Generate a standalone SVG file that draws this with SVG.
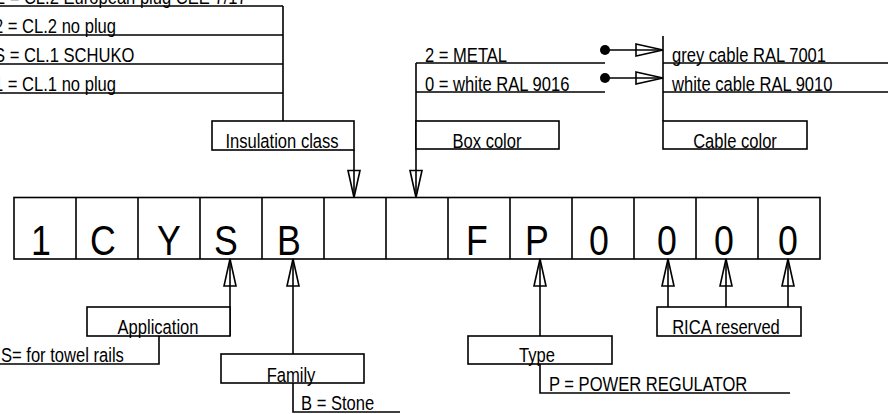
<svg xmlns="http://www.w3.org/2000/svg" width="888" height="414" viewBox="0 0 888 414">
<style>
.ln{fill:none;stroke:#000;stroke-width:1.6}
.bx{fill:#fff;stroke:#000;stroke-width:1.6}
.t{font-family:"Liberation Sans",Arial,sans-serif;font-size:19.5px;fill:#000}
.m{text-anchor:middle}
.big{font-family:"Liberation Sans",Arial,sans-serif;font-size:42px;fill:#000;text-anchor:middle}
</style>
<defs>
<marker id="ah" viewBox="-1 -1 29 14" refX="27" refY="6" markerWidth="29" markerHeight="14" markerUnits="userSpaceOnUse" orient="auto" overflow="visible">
<path d="M0,0 L27,6 L0,12 Z" fill="none" stroke="#000" stroke-width="1.6"/>
</marker>
</defs>
<rect width="888" height="414" fill="#fff"/>

<g id="code">
<rect class="bx" x="14" y="197.5" width="806" height="61.5"/>
<path class="ln" d="M76,197.5V259M138,197.5V259M200,197.5V259M262,197.5V259M324,197.5V259M386,197.5V259M448,197.5V259M510,197.5V259M572,197.5V259M634,197.5V259M696,197.5V259M758,197.5V259"/>
<text class="big" transform="translate(41,255) scale(0.85,1)">1</text>
<text class="big" transform="translate(103,255) scale(0.85,1)">C</text>
<text class="big" transform="translate(169,255) scale(0.85,1)">Y</text>
<text class="big" transform="translate(226,255) scale(0.85,1)">S</text>
<text class="big" transform="translate(289,255) scale(0.85,1)">B</text>
<text class="big" transform="translate(477,255) scale(0.85,1)">F</text>
<text class="big" transform="translate(537,255) scale(0.85,1)">P</text>
<text class="big" transform="translate(599,255) scale(0.85,1)">0</text>
<text class="big" transform="translate(667,255) scale(0.85,1)">0</text>
<text class="big" transform="translate(724,255) scale(0.85,1)">0</text>
<text class="big" transform="translate(788,255) scale(0.85,1)">0</text>
</g>

<g id="connectors">
<path class="ln" d="M0,6H283M0,35H283M0,64H283M0,93H283M283,6V121"/>
<path class="ln" d="M354,150V197.5" marker-end="url(#ah)"/>
<path class="ln" d="M416,63H605M416,92H605"/>
<path class="ln" d="M416,63V197.5" marker-end="url(#ah)"/>
<path class="ln" d="M663,36V121M663,63H888M663,92H888"/>
<circle cx="605" cy="50" r="5" fill="#000"/>
<circle cx="605" cy="78" r="5" fill="#000"/>
<path class="ln" d="M605,50H663" marker-end="url(#ah)"/>
<path class="ln" d="M605,78H663" marker-end="url(#ah)"/>
<path class="ln" d="M230,336V259" marker-end="url(#ah)"/>
<path class="ln" d="M159,336V364H0"/>
<path class="ln" d="M293,354V259" marker-end="url(#ah)"/>
<path class="ln" d="M293,383V412H400"/>
<path class="ln" d="M540,336V259" marker-end="url(#ah)"/>
<path class="ln" d="M540,364V393H790"/>
<path class="ln" d="M668,307V259" marker-end="url(#ah)"/>
<path class="ln" d="M726,307V259" marker-end="url(#ah)"/>
<path class="ln" d="M788,307V259" marker-end="url(#ah)"/>
</g>

<g id="insulation-options">
<text class="t" transform="translate(-6,4) scale(0.85,1)">E = CL.2 European plug CEE 7/17</text>
<text class="t" transform="translate(-6,33) scale(0.85,1)">2 = CL.2 no plug</text>
<text class="t" transform="translate(-6,62) scale(0.85,1)">S = CL.1 SCHUKO</text>
<text class="t" transform="translate(-6,91) scale(0.85,1)">1 = CL.1 no plug</text>
</g>
<g id="insulation">
<rect class="bx" x="212" y="121" width="142" height="29"/>
<text class="t m" transform="translate(282,148) scale(0.85,1)">Insulation class</text>
</g>

<g id="boxcolor-options">
<text class="t" transform="translate(425,61.5) scale(0.85,1)">2 = METAL</text>
<text class="t" transform="translate(425,90.5) scale(0.85,1)">0 = white RAL 9016</text>
</g>
<g id="boxcolor">
<rect class="bx" x="416" y="121" width="143" height="28"/>
<text class="t m" transform="translate(487,148) scale(0.85,1)">Box color</text>
</g>

<g id="cablecolor-options">
<text class="t" transform="translate(672,61.5) scale(0.85,1)">grey cable RAL 7001</text>
<text class="t" transform="translate(672,90.5) scale(0.85,1)">white cable RAL 9010</text>
</g>
<g id="cablecolor">
<rect class="bx" x="663" y="121" width="144" height="28"/>
<text class="t m" transform="translate(735,148) scale(0.85,1)">Cable color</text>
</g>

<g id="application">
<rect class="bx" x="87" y="307" width="143" height="29"/>
<text class="t m" transform="translate(158,334) scale(0.85,1)">Application</text>
<text class="t" transform="translate(1,362) scale(0.85,1)">S= for towel rails</text>
</g>

<g id="family">
<rect class="bx" x="221" y="354" width="143" height="29"/>
<text class="t m" transform="translate(291,382) scale(0.85,1)">Family</text>
<text class="t" transform="translate(301,409.5) scale(0.85,1)">B = Stone</text>
</g>

<g id="type">
<rect class="bx" x="468" y="336" width="144" height="28"/>
<text class="t m" transform="translate(537,362) scale(0.85,1)">Type</text>
<text class="t" transform="translate(549,391) scale(0.85,1)">P = POWER REGULATOR</text>
</g>

<g id="rica">
<rect class="bx" x="657" y="307" width="144" height="29"/>
<text class="t m" transform="translate(726,334) scale(0.85,1)">RICA reserved</text>
</g>
</svg>
